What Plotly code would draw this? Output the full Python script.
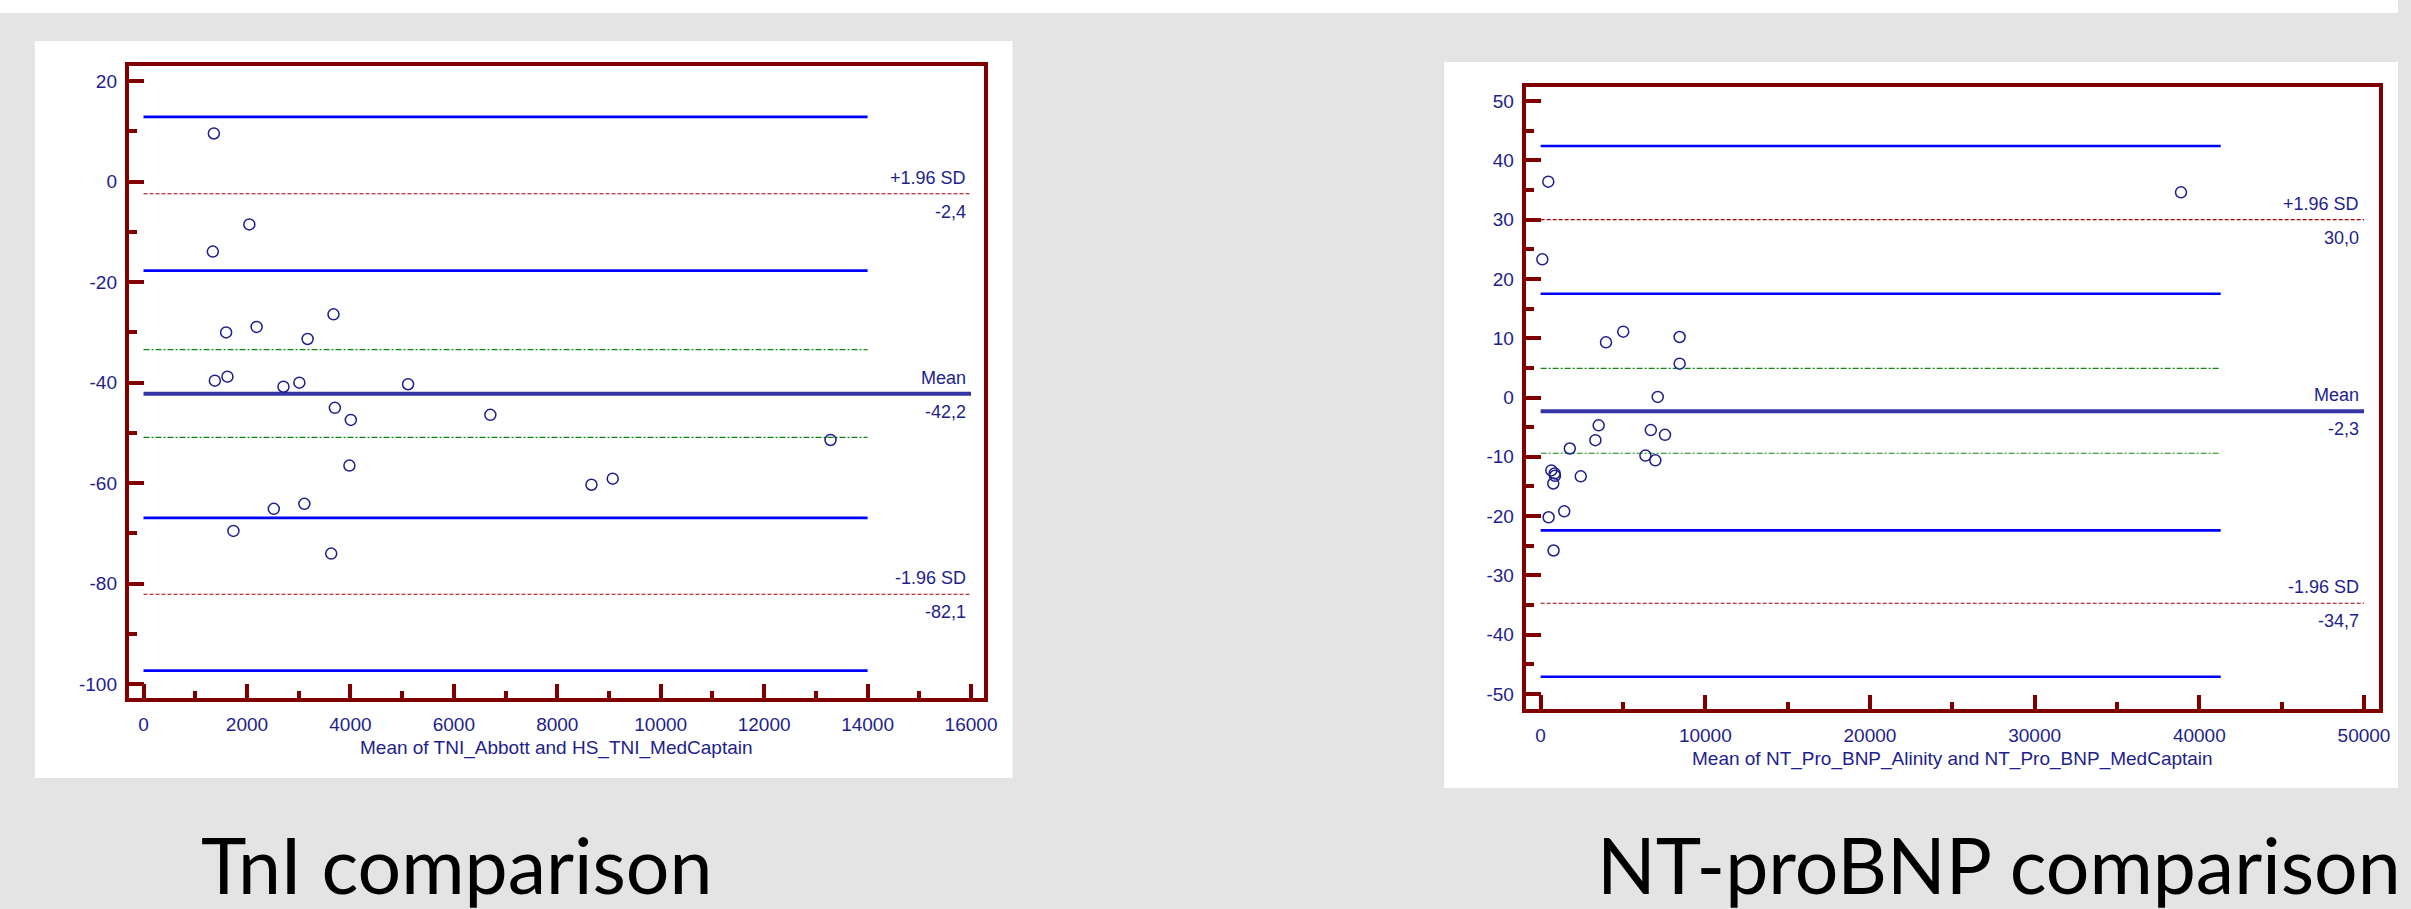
import plotly.graph_objects as go

W, H = 2411, 909

# ---------------- data: TnI (left) ----------------
tni_mean_x = [1360, 2046, 1340, 1597, 2187, 3173, 3673, 1379, 1623, 2706, 3013, 5115,
              3700, 4008, 6706, 3981, 2519, 3110, 1738, 3629, 8661, 9072, 13283]
tni_diff = [9.6, -8.5, -13.9, -30.0, -28.9, -31.3, -26.4, -39.6, -38.8, -40.8, -40.0, -40.3,
            -45.0, -47.4, -46.4, -56.5, -65.1, -64.1, -69.5, -74.0, -60.3, -59.1, -51.4]
tni_mean = -42.2
tni_upper = -2.4
tni_lower = -82.1
tni_mean_ci = [-33.4, -50.9]
tni_upper_ci = [12.9, -17.7]
tni_lower_ci = [-66.9, -97.3]
tni_ci_end = 14000
tni_xmax = 16000
tni_xticks = [0, 2000, 4000, 6000, 8000, 10000, 12000, 14000, 16000]
tni_yticks = [20, 0, -20, -40, -60, -80, -100]
tni_xlabel = "Mean of TNI_Abbott and HS_TNI_MedCaptain"
tni_title = "TnI comparison"

# ---------------- data: NT-proBNP (right) ----------------
bnp_mean_x = [464, 102, 3968, 5015, 8440, 8440, 7111, 3523, 3323, 1771, 6689, 7553,
              6363, 6967, 650, 850, 870, 767, 2435, 1432, 483, 785, 38888]
bnp_diff = [36.4, 23.3, 9.3, 11.1, 10.2, 5.7, 0.1, -4.7, -7.2, -8.6, -5.5, -6.3,
            -9.8, -10.6, -12.3, -12.8, -13.2, -14.5, -13.3, -19.2, -20.2, -25.8, 34.6]
bnp_mean = -2.3
bnp_upper = 30.0
bnp_lower = -34.7
bnp_mean_ci = [4.9, -9.4]
bnp_upper_ci = [42.4, 17.5]
bnp_lower_ci = [-22.4, -47.1]
bnp_ci_end = 41300
bnp_xmax = 50000
bnp_xticks = [0, 10000, 20000, 30000, 40000, 50000]
bnp_yticks = [50, 40, 30, 20, 10, 0, -10, -20, -30, -40, -50]
bnp_xlabel = "Mean of NT_Pro_BNP_Alinity and NT_Pro_BNP_MedCaptain"
bnp_title = "NT-proBNP comparison"

# ---------------- styling ----------------
NAVY = "#1e1e8c"
MAROON = "#800000"
BLUE = "#0000ff"
MEANC = "#3535a5"
RED = "#a00000"
GREEN = "#118811"
GRAY = "#e4e4e4"
FONT = "Liberation Sans, Arial, sans-serif"


def px_x(p):
    return p / W


def px_y(p):
    return 1 - p / H


fig = go.Figure()


def add_panel(xa, ya, xs, ys, mean, upper, lower, mean_ci, upper_ci, lower_ci, ci_end, xmax):
    xr, yr = "x" + xa, "y" + ya
    for v in upper_ci + lower_ci:
        fig.add_trace(go.Scatter(x=[0, ci_end], y=[v, v], mode="lines",
                                 line=dict(color=BLUE, width=2.6), xaxis=xr, yaxis=yr,
                                 hoverinfo="skip", showlegend=False))
    for v in mean_ci:
        fig.add_trace(go.Scatter(x=[0, ci_end], y=[v, v], mode="lines",
                                 line=dict(color=GREEN, width=1.2, dash="6px,2px,2px,2px"),
                                 xaxis=xr, yaxis=yr, hoverinfo="skip", showlegend=False))
    for v in [upper, lower]:
        fig.add_trace(go.Scatter(x=[0, xmax], y=[v, v], mode="lines",
                                 line=dict(color=RED, width=1.2, dash="4px,2px"),
                                 xaxis=xr, yaxis=yr, hoverinfo="skip", showlegend=False))
    fig.add_trace(go.Scatter(x=[0, xmax], y=[mean, mean], mode="lines",
                             line=dict(color=MEANC, width=4), xaxis=xr, yaxis=yr,
                             hoverinfo="skip", showlegend=False))
    fig.add_trace(go.Scatter(x=xs, y=ys, mode="markers",
                             marker=dict(symbol="circle-open", size=11, color=NAVY,
                                         line=dict(width=1.5, color=NAVY)),
                             xaxis=xr, yaxis=yr, showlegend=False))
    labels = [("+1.96 SD", f"{upper:.1f}".replace(".", ","), upper),
              ("Mean", f"{mean:.1f}".replace(".", ","), mean),
              ("-1.96 SD", f"{lower:.1f}".replace(".", ","), lower)]
    for top, bottom, v in labels:
        fig.add_annotation(x=xmax, y=v, xref=xr, yref=yr, text=top, showarrow=False,
                           xanchor="right", yanchor="bottom", xshift=-3, yshift=4,
                           font=dict(family=FONT, size=18, color=NAVY))
        fig.add_annotation(x=xmax, y=v, xref=xr, yref=yr, text=bottom, showarrow=False,
                           xanchor="right", yanchor="top", xshift=-3, yshift=-6,
                           font=dict(family=FONT, size=18, color=NAVY))


add_panel("", "", tni_mean_x, tni_diff, tni_mean, tni_upper, tni_lower,
          tni_mean_ci, tni_upper_ci, tni_lower_ci, tni_ci_end, tni_xmax)
add_panel("2", "2", bnp_mean_x, bnp_diff, bnp_mean, bnp_upper, bnp_lower,
          bnp_mean_ci, bnp_upper_ci, bnp_lower_ci, bnp_ci_end, bnp_xmax)

# ---------------- geometry (pixels) ----------------
LW = 4
L_l, L_r, L_t, L_b = 127.5, 991.3, 63.7, 700.0
R_l, R_r, R_t, R_b = 1532.0, 2393.7, 85.0, 710.7
h = LW / 2

lx0, lsx, ly0, lsy = 144.3, 0.052, 181.7, 5.025
rx0, rsx, ry0, rsy = 1549.0, 0.016556, 397.5, 5.93


def rng_x(a, b, x0, s):
    return [(a - x0) / s, (b - x0) / s]


def rng_y(top, bot, y0, s):
    return [(y0 - bot) / s, (y0 - top) / s]


def tick_text(vals):
    return [str(v) for v in vals]


ax_common = dict(showline=True, linewidth=LW, linecolor=MAROON, mirror=True,
                 showgrid=False, zeroline=False, ticks="inside", tickcolor=MAROON,
                 tickwidth=3.5, tickfont=dict(family=FONT, size=19, color=NAVY),
                 fixedrange=True, tickmode="array")

fig.update_layout(
    xaxis=dict(**ax_common, domain=[px_x(L_l + h), px_x(L_r - h)],
               range=rng_x(L_l + h, L_r - h, lx0, lsx), anchor="y",
               tickvals=tni_xticks, ticktext=tick_text(tni_xticks),
               ticklen=14, ticklabelstandoff=6,
               minor=dict(ticks="inside", tick0=0, dtick=1000, ticklen=7, tickwidth=3.5,
                          tickcolor=MAROON)),
    yaxis=dict(**ax_common, domain=[px_y(L_b - h), px_y(L_t + h)],
               range=rng_y(L_t + h, L_b - h, ly0, lsy), anchor="x",
               tickvals=tni_yticks, ticktext=tick_text(tni_yticks),
               ticklen=15, ticklabelstandoff=4,
               minor=dict(ticks="inside", tick0=0, dtick=10, ticklen=8, tickwidth=3.5,
                          tickcolor=MAROON)),
    xaxis2=dict(**ax_common, domain=[px_x(R_l + h), px_x(R_r - h)],
                range=rng_x(R_l + h, R_r - h, rx0, rsx), anchor="y2",
                tickvals=bnp_xticks, ticktext=tick_text(bnp_xticks),
                ticklen=14, ticklabelstandoff=6,
                minor=dict(ticks="inside", tick0=0, dtick=5000, ticklen=7, tickwidth=3.5,
                           tickcolor=MAROON)),
    yaxis2=dict(**ax_common, domain=[px_y(R_b - h), px_y(R_t + h)],
                range=rng_y(R_t + h, R_b - h, ry0, rsy), anchor="x2",
                tickvals=bnp_yticks, ticktext=tick_text(bnp_yticks),
                ticklen=15, ticklabelstandoff=4,
                minor=dict(ticks="inside", tick0=0, dtick=5, ticklen=8, tickwidth=3.5,
                           tickcolor=MAROON)),
)

shapes = [
    dict(type="rect", xref="paper", yref="paper", x0=0, x1=1, y0=px_y(13), y1=1,
         fillcolor="white", line=dict(width=0), layer="below"),
    dict(type="rect", xref="paper", yref="paper", x0=px_x(35), x1=px_x(1018),
         y0=px_y(778), y1=px_y(41), fillcolor="white", line=dict(width=0), layer="below"),
    dict(type="rect", xref="paper", yref="paper", x0=px_x(1452), x1=1,
         y0=px_y(788), y1=px_y(62), fillcolor="white", line=dict(width=0), layer="below"),
]

fig.add_annotation(text=tni_xlabel, xref="paper", yref="paper", x=px_x((L_l + L_r) / 2),
                   y=px_y(735), xanchor="center", yanchor="top", showarrow=False,
                   font=dict(family=FONT, size=19, color=NAVY))
fig.add_annotation(text=bnp_xlabel, xref="paper", yref="paper", x=px_x((R_l + R_r) / 2),
                   y=px_y(746), xanchor="center", yanchor="top", showarrow=False,
                   font=dict(family=FONT, size=19, color=NAVY))

fig.add_annotation(text=tni_title, xref="paper", yref="paper", x=px_x(459), y=px_y(864),
                   xanchor="center", yanchor="middle", showarrow=False,
                   font=dict(family="Lato, Open Sans, sans-serif", size=77, color="black"))
fig.add_annotation(text=bnp_title, xref="paper", yref="paper", x=px_x(2010), y=px_y(864),
                   xanchor="center", yanchor="middle", showarrow=False,
                   font=dict(family="Lato, Open Sans, sans-serif", size=77, color="black"))

fig.update_layout(width=W, height=H, margin=dict(l=0, r=0, t=0, b=0),
                  paper_bgcolor=GRAY, plot_bgcolor="white", shapes=shapes,
                  showlegend=False)

fig.write_html("out.html", config={"displayModeBar": False},
               post_script="document.body.style.margin='0';"
                           "document.body.style.overflow='hidden';")
